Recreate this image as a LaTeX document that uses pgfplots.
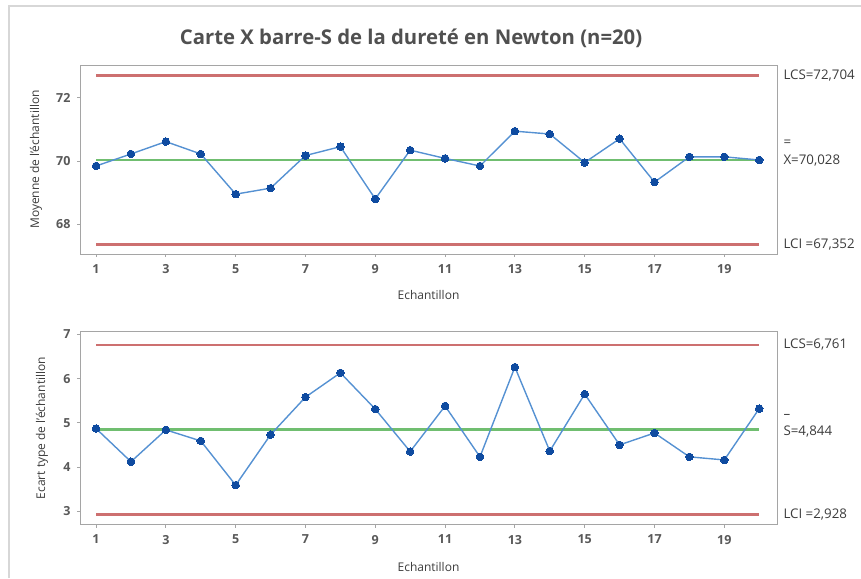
\documentclass[border=0pt]{standalone}
\usepackage{pgfplots}
\pgfplotsset{compat=1.18}
\usepackage{fontspec}
\setmainfont{Open Sans}
\definecolor{frm}{RGB}{165,165,165}
\definecolor{redl}{RGB}{205,112,112}
\definecolor{greenl}{RGB}{112,190,112}
\definecolor{bluel}{RGB}{85,145,210}
\definecolor{bluem}{RGB}{15,75,160}
\definecolor{txt}{RGB}{60,60,60}
\definecolor{brd}{RGB}{215,215,215}

\pgfplotstableread{
x m
1 69.84
2 70.22
3 70.61
4 70.22
5 68.95
6 69.14
7 70.17
8 70.45
9 68.80
10 70.34
11 70.08
12 69.84
13 70.94
14 70.85
15 69.95
16 70.70
17 69.33
18 70.13
19 70.13
20 70.03
}\meantable

\pgfplotstableread{
x s
1 4.87
2 4.12
3 4.84
4 4.59
5 3.59
6 4.73
7 5.58
8 6.13
9 5.31
10 4.35
11 5.38
12 4.23
13 6.26
14 4.36
15 5.65
16 4.50
17 4.77
18 4.23
19 4.16
20 5.32
}\sdtable

\pgfplotsset{
  ctrl/.style={
    scale only axis,
    width=697pt,
    xmin=0.54, xmax=20.51,
    xtick={1,3,...,19},
    axis line style={frm, line width=1pt},
    tick style={frm, line width=0.8pt},
    tick align=outside,
    tick pos=left,
    major tick length=3pt,
    ticklabel style={font=\fontsize{12.5}{14}\selectfont\bfseries, text=txt!85},
    /pgf/number format/assume math mode=true,
    clip=false,
    xticklabel style={yshift=-4pt},
    yticklabel style={xshift=-3pt},
  },
  redline/.style={redl, line width=2.6pt},
  greenline/.style={greenl, line width=2.6pt},
  dataline/.style={bluel, line width=1.4pt, mark=*, mark size=3.8pt, mark options={fill=bluem, draw=bluem, line width=0pt}},
}
\tikzset{
  rlab/.style={anchor=west, font=\fontsize{13.3}{15}\selectfont, text=txt},
  alab/.style={font=\fontsize{12}{14}\selectfont, text=txt},
}

\begin{document}
\begin{tikzpicture}
\path[use as bounding box] (0pt,0pt) rectangle (861pt,-578pt);
\draw[brd, line width=1.2pt] (9pt,-578pt) -- (9pt,-6pt) -- (861pt,-6pt);
\node[font=\fontsize{20.3}{23}\selectfont\bfseries, text=txt!90] at (411pt,-38pt) {Carte X barre-S de la dureté en Newton (n=20)};

\begin{axis}[ctrl,
  at={(80pt,-65pt)}, anchor=north west,
  height=189pt,
  ymin=67.06, ymax=73.03,
  ytick={68,70,72},
]
\addplot[redline] coordinates {(1,72.704) (20,72.704)};
\addplot[redline] coordinates {(1,67.352) (20,67.352)};
\addplot[greenline] coordinates {(1,70.028) (20,70.028)};
\addplot[dataline] table[x=x,y=m] {\meantable};
\node[rlab, xshift=3pt] at (axis cs:20.51,72.704) {LCS=72,704};
\node[rlab, xshift=3pt] at (axis cs:20.51,70.028) {X=70,028};
\node[rlab, xshift=3pt, yshift=17pt] at (axis cs:20.51,70.028) {=};
\node[rlab, xshift=3pt] at (axis cs:20.51,67.352) {LCI =67,352};
\node[alab, yshift=-41pt] at (rel axis cs:0.5,0) {Echantillon};
\node[alab, xshift=-44pt, rotate=90] at (rel axis cs:0,0.5) {Moyenne de l'échantillon};
\end{axis}

\begin{axis}[ctrl,
  at={(80pt,-331.7pt)}, anchor=north west,
  height=192.8pt,
  ymin=2.70, ymax=7.06,
  ytick={3,4,5,6,7},
]
\addplot[redline] coordinates {(1,6.761) (20,6.761)};
\addplot[redline] coordinates {(1,2.928) (20,2.928)};
\addplot[greenline] coordinates {(1,4.844) (20,4.844)};
\addplot[dataline] table[x=x,y=s] {\sdtable};
\node[rlab, xshift=3pt] at (axis cs:20.51,6.761) {LCS=6,761};
\node[rlab, xshift=3pt, yshift=-2pt] at (axis cs:20.51,4.844) {S=4,844};
\node[rlab, xshift=3pt, yshift=13pt] at (axis cs:20.51,4.844) {–};
\node[rlab, xshift=3pt] at (axis cs:20.51,2.928) {LCI =2,928};
\node[alab, yshift=-42pt] at (rel axis cs:0.5,0) {Echantillon};
\node[alab, xshift=-38pt, rotate=90] at (rel axis cs:0,0.5) {Ecart type de l'échantillon};
\end{axis}
\end{tikzpicture}
\end{document}
